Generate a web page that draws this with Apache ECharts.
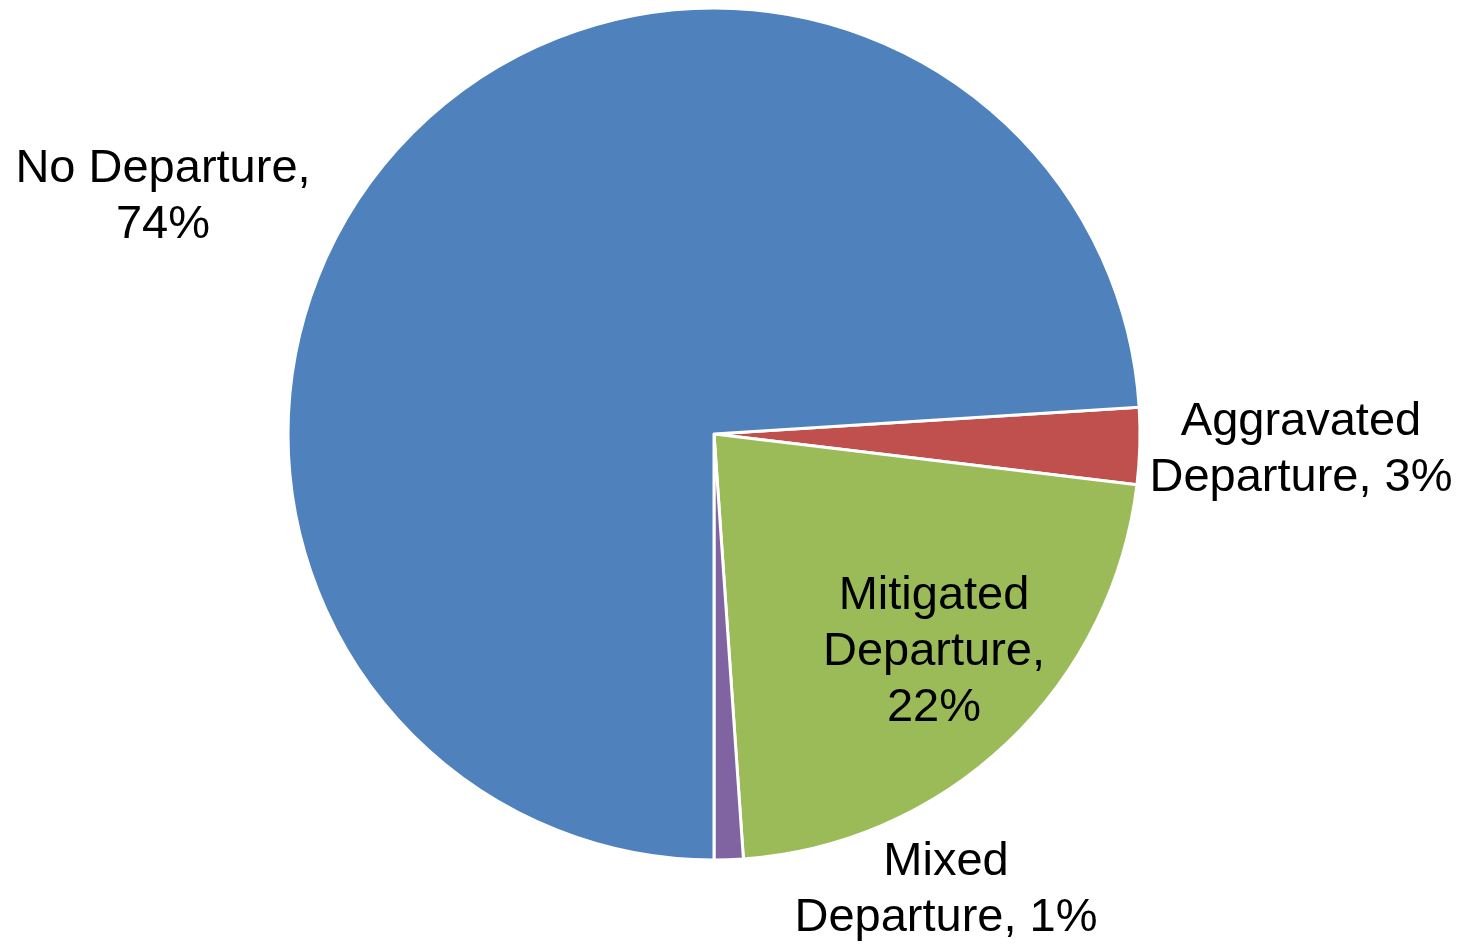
<!DOCTYPE html>
<html>
<head>
<meta charset="utf-8">
<script src="https://cdn.jsdelivr.net/npm/echarts@6/dist/echarts.min.js"></script>
<style>
html,body{margin:0;padding:0;background:#fff;}
#chart{width:1468px;height:944px;}
</style>
</head>
<body>
<div id="chart"></div>
<script>
const categories = ['Aggravated Departure', 'Mitigated Departure', 'Mixed Departure', 'No Departure'];
const values = [2.9, 22.0, 1.1, 74.0];
const labelTexts = ['Aggravated\nDeparture, 3%', 'Mitigated\nDeparture,\n22%', 'Mixed\nDeparture, 1%', 'No Departure,\n74%'];
const colors = ['#C0504D', '#9BBB59', '#8064A2', '#4F81BD'];

const labelPos = [[1301, 450], [934, 652], [946, 890], [163, 197]];

const chart = echarts.init(document.getElementById('chart'), null, {renderer: 'canvas'});
chart.setOption({
  backgroundColor: '#ffffff',
  animation: false,
  series: [{
    type: 'pie',
    center: [714, 434],
    radius: [0, 426],
    startAngle: 3.6,
    clockwise: true,
    avoidLabelOverlap: false,
    itemStyle: {borderColor: '#ffffff', borderWidth: 3},
    label: {
      show: true,
      position: 'outside',
      color: '#000000',
      fontFamily: '"Liberation Sans", Arial, sans-serif',
      fontSize: 47,
      lineHeight: 56,
      align: 'center'
    },
    labelLine: {show: false},
    labelLayout: function (p) {
      const pos = labelPos[p.dataIndex];
      return {x: pos[0], y: pos[1], align: 'center', verticalAlign: 'middle'};
    },
    data: categories.map((c, i) => ({
      name: c,
      value: values[i],
      itemStyle: {color: colors[i]},
      label: {formatter: labelTexts[i]}
    }))
  }]
});
</script>
</body>
</html>
